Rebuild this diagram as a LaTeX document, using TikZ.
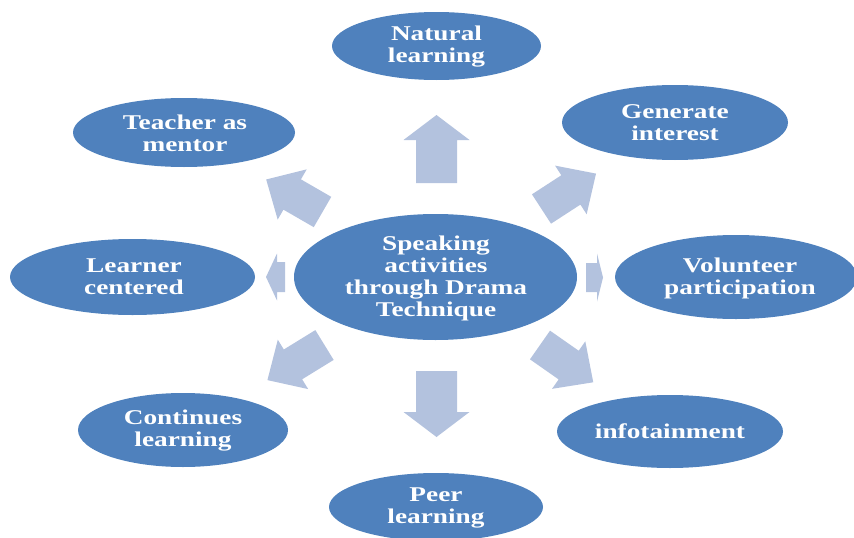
\documentclass[tikz,border=0pt]{standalone}
\usepackage{fontspec}
\setmainfont{Liberation Serif}[FakeStretch=1.3]
\usetikzlibrary{shapes.geometric}
\definecolor{blobblue}{HTML}{4F81BD}
\definecolor{arrblue}{HTML}{B3C2DE}
\tikzset{
  blob/.style={ellipse, fill=blobblue, draw=none, inner sep=0pt},
  txt/.style={text=white, font=\fontsize{21}{22}\selectfont\bfseries, align=center, inner sep=0pt},
  arr/.style={fill=arrblue, draw=none}
}
\newcommand\barrow[7]{%
  \fill[arr,shift={(#1,#2)},rotate=#3] (0,-#6/2) -- (#4-#5,-#6/2) -- (#4-#5,-#7/2) -- (#4,0) -- (#4-#5,#7/2) -- (#4-#5,#6/2) -- (0,#6/2) -- cycle;}
\begin{document}
\begin{tikzpicture}[x=1pt,y=-1pt]
\useasboundingbox (0,0) rectangle (854,538);
% block arrows
\barrow{436.5}{183}{90}{68}{25}{41}{66}
\barrow{436.5}{371}{-90}{66}{25}{41}{66}
\barrow{322.5}{212}{150}{65}{30}{35}{58}
\barrow{541.5}{209}{33}{65}{30}{35}{58}
\barrow{324.5}{345}{211.6}{67}{30}{35}{58}
\barrow{540}{345}{-35}{65}{30}{35}{58}
\barrow{285}{277}{180}{19}{11}{30}{47}
\barrow{586}{277.5}{0}{17}{6}{29}{48}
% ellipses
\node[blob, minimum width=283pt, minimum height=126pt] (c) at (435.5,277) {};
\node[txt] (c-t) at (436,278) {Speaking\\activities\\through Drama\\Technique};
\node[blob, minimum width=209pt, minimum height=68pt] (n1) at (436.5,46) {};
\node[txt] (n1-t) at (436.5,47) {Natural\\learning};
\node[blob, minimum width=226pt, minimum height=75pt] (n2) at (675,122.5) {};
\node[txt] (n2-t) at (675,123) {Generate\\interest};
\node[blob, minimum width=242pt, minimum height=84pt] (n3) at (736,277) {};
\node[txt] (n3-t) at (740,278) {Volunteer\\participation};
\node[blob, minimum width=226pt, minimum height=73pt] (n4) at (670,431.5) {};
\node[txt] (n4-t) at (n4) {infotainment};
\node[blob, minimum width=214pt, minimum height=68pt] (n5) at (436,507) {};
\node[txt] (n5-t) at (436,508) {Peer\\learning};
\node[blob, minimum width=210pt, minimum height=74pt] (n6) at (183,430) {};
\node[txt] (n6-t) at (183,431) {Continues\\learning};
\node[blob, minimum width=245pt, minimum height=76pt] (n7) at (132.5,277) {};
\node[txt] (n7-t) at (134,277) {Learner\\centered};
\node[blob, minimum width=222pt, minimum height=69pt] (n8) at (184,132.5) {};
\node[txt] (n8-t) at (185,133) {Teacher as\\mentor};
\end{tikzpicture}
\end{document}
